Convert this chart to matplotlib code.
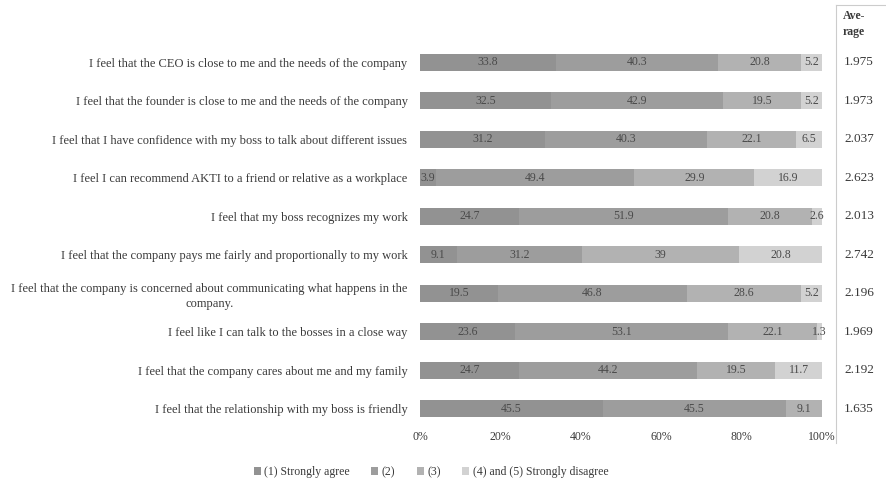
import matplotlib.pyplot as plt
import numpy as np

plt.rcParams['font.family'] = ['Liberation Serif', 'DejaVu Serif']

items = [
    "I feel that the CEO is close to me and the needs of the company",
    "I feel that the founder is close to me and the needs of the company",
    "I feel that I have confidence with my boss to talk about different issues",
    "I feel I can recommend AKTI to a friend or relative as a workplace",
    "I feel that my boss recognizes my work",
    "I feel that the company pays me fairly and proportionally to my work",
    "I feel that the company is concerned about communicating what happens in the\ncompany.",
    "I feel like I can talk to the bosses in a close way",
    "I feel that the company cares about me and my family",
    "I feel that the relationship with my boss is friendly",
]
agree = [33.8, 32.5, 31.2, 3.9, 24.7, 9.1, 19.5, 23.6, 24.7, 45.5]
two = [40.3, 42.9, 40.3, 49.4, 51.9, 31.2, 46.8, 53.1, 44.2, 45.5]
three = [20.8, 19.5, 22.1, 29.9, 20.8, 39, 28.6, 22.1, 19.5, 9.1]
four_five = [5.2, 5.2, 6.5, 16.9, 2.6, 20.8, 5.2, 1.3, 11.7, 0]
averages = ["1.975", "1.973", "2.037", "2.623", "2.013", "2.742", "2.196", "1.969", "2.192", "1.635"]

series = [agree, two, three, four_five]
names = ["(1) Strongly agree", "(2)", "(3)", "(4) and (5) Strongly disagree"]
colors = ["#929292", "#9d9d9d", "#b2b2b2", "#d2d2d2"]
txt = "#3a3a3a"

fig = plt.figure(figsize=(8.86, 4.90), dpi=100)
ax = fig.add_axes([420 / 886, 1 - 428 / 490, 402 / 886, 385 / 490])

y = np.arange(len(items))
left = np.zeros(len(items))
for vals, name, c in zip(series, names, colors):
    vals = np.array(vals, dtype=float)
    bars = ax.barh(y, vals, left=left, height=0.43, color=c, label=name)
    labels = ["%g" % v if v > 0 else "" for v in vals]
    ax.bar_label(bars, labels=labels, label_type="center", fontsize=8.5, color="#4a4a4a")
    left += vals

ax.set_ylim(len(items) - 0.5, -0.5)
ax.set_xlim(0, 100)
ax.set_yticks(y)
ax.set_yticklabels(items, fontsize=9, color=txt, multialignment="center", linespacing=1.35)
ax.set_xticks(range(0, 101, 20))
ax.set_xticklabels(["%d%%" % t for t in range(0, 101, 20)], fontsize=8.5, color=txt)
ax.tick_params(length=0, pad=9)
ax.tick_params(axis="x", pad=2)
for s in ax.spines.values():
    s.set_visible(False)

# average column on the right
bx = fig.add_axes([836 / 886, 1 - 443 / 490, 60 / 886, 438 / 490])
bx.set_xlim(0, 1)
bx.set_ylim(443, 5)
for k in ["right", "bottom"]:
    bx.spines[k].set_visible(False)
for k in ["left", "top"]:
    bx.spines[k].set_color("#cccccc")
    bx.spines[k].set_linewidth(0.8)
bx.set_xticks([])
bx.set_yticks([])
bx.patch.set_alpha(0)
bx.text(0.12, 24, "Ave-\nrage", fontsize=8.5, fontweight="bold", color=txt,
        va="center", ha="left", linespacing=1.5)
for i, a in enumerate(averages):
    yy = fig.transFigure.inverted().transform(ax.transData.transform((0, i)))[1]
    fig.text(859 / 886, yy, a, fontsize=9.5, color=txt, ha="center", va="center")

fig.legend(loc="center", bbox_to_anchor=(431 / 886, 1 - 472 / 490), ncol=4, frameon=False,
           fontsize=8.5, handlelength=0.6, handleheight=0.6, handletextpad=0.3,
           columnspacing=1.8, labelcolor=txt)

fig.savefig("out.png", dpi=100, facecolor="white")
